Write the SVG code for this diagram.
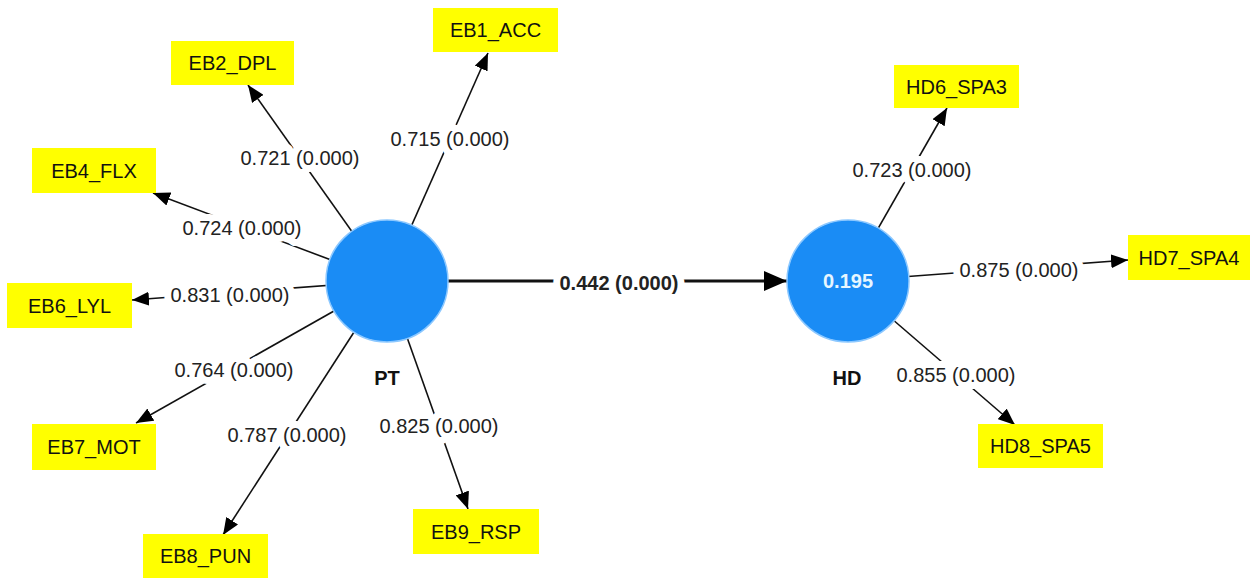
<svg xmlns="http://www.w3.org/2000/svg" width="1250" height="578" viewBox="0 0 1250 578">
<style>
.box{fill:#FFFF00;}
.bt{font-family:"Liberation Sans",Arial,sans-serif;font-size:20px;fill:#111;text-anchor:middle;}
.lv{font-family:"Liberation Sans",Arial,sans-serif;font-size:20px;fill:#222;text-anchor:middle;stroke:#fff;stroke-width:14px;paint-order:stroke;stroke-linejoin:round;}
.ln{stroke:#111;stroke-width:1.6;fill:none;marker-end:url(#ah);}
.lnb{stroke:#111;stroke-width:3.2;fill:none;marker-end:url(#ahb);}
.circ{fill:#1A8CF5;stroke:#8CC8FF;stroke-width:1.5;}
.nl{font-family:"Liberation Sans",Arial,sans-serif;font-size:20px;font-weight:bold;fill:#111;text-anchor:middle;}
</style>
<defs>
<marker id="ah" markerUnits="userSpaceOnUse" markerWidth="18" markerHeight="14" refX="17" refY="7" orient="auto"><path d="M0,0 L17,7 L0,14 z" fill="#000"/></marker>
<marker id="ahb" markerUnits="userSpaceOnUse" markerWidth="24" markerHeight="20" refX="23" refY="10" orient="auto"><path d="M0,0 L23,10 L0,20 z" fill="#000"/></marker>
</defs>
<rect width="1250" height="578" fill="#fff"/>
<g id="connectors">
<line class="ln" x1="387" y1="281" x2="488" y2="53"/>
<line class="ln" x1="387" y1="281" x2="248" y2="85"/>
<line class="ln" x1="387" y1="281" x2="153" y2="193"/>
<line class="ln" x1="387" y1="281" x2="132" y2="300"/>
<line class="ln" x1="387" y1="281" x2="136" y2="423"/>
<line class="ln" x1="387" y1="281" x2="223" y2="535"/>
<line class="ln" x1="387" y1="281" x2="468" y2="509"/>
<line class="lnb" x1="387" y1="281" x2="787" y2="281"/>
<line class="ln" x1="848" y1="281" x2="947" y2="108"/>
<line class="ln" x1="848" y1="281" x2="1128" y2="260"/>
<line class="ln" x1="848" y1="281" x2="1015" y2="425"/>
<text class="lv" x="450" y="146">0.715 (0.000)</text>
<text class="lv" x="300" y="165">0.721 (0.000)</text>
<text class="lv" x="242" y="235">0.724 (0.000)</text>
<text class="lv" x="230" y="302">0.831 (0.000)</text>
<text class="lv" x="234" y="377">0.764 (0.000)</text>
<text class="lv" x="287" y="442">0.787 (0.000)</text>
<text class="lv" x="439" y="433">0.825 (0.000)</text>
<text class="lv" x="619" y="290" font-weight="bold" fill="#111">0.442 (0.000)</text>
<text class="lv" x="912" y="177">0.723 (0.000)</text>
<text class="lv" x="1019" y="277">0.875 (0.000)</text>
<text class="lv" x="956" y="382">0.855 (0.000)</text>
</g>
<g id="PT">
<circle class="circ" cx="387" cy="281" r="61"/>
<text class="nl" x="387" y="385">PT</text>
</g>
<g id="HD">
<circle class="circ" cx="848" cy="281" r="61"/>
<text x="848" y="288" font-family="Liberation Sans, Arial, sans-serif" font-size="20" font-weight="bold" fill="#E6F6FF" text-anchor="middle">0.195</text>
<text class="nl" x="847" y="385">HD</text>
</g>
<g id="EB1_ACC"><rect class="box" x="433" y="8" width="125" height="44"/><text class="bt" x="495.5" y="37">EB1_ACC</text></g>
<g id="EB2_DPL"><rect class="box" x="171" y="41" width="123" height="44"/><text class="bt" x="232.5" y="70">EB2_DPL</text></g>
<g id="EB4_FLX"><rect class="box" x="32" y="148" width="124" height="45"/><text class="bt" x="94" y="178">EB4_FLX</text></g>
<g id="EB6_LYL"><rect class="box" x="7" y="283" width="125" height="45"/><text class="bt" x="69.5" y="313">EB6_LYL</text></g>
<g id="EB7_MOT"><rect class="box" x="32" y="424" width="124" height="46"/><text class="bt" x="94" y="454">EB7_MOT</text></g>
<g id="EB8_PUN"><rect class="box" x="143" y="534" width="125" height="44"/><text class="bt" x="205.5" y="563">EB8_PUN</text></g>
<g id="EB9_RSP"><rect class="box" x="413" y="509" width="126" height="45"/><text class="bt" x="476" y="539">EB9_RSP</text></g>
<g id="HD6_SPA3"><rect class="box" x="894" y="65" width="125" height="43"/><text class="bt" x="956.5" y="94">HD6_SPA3</text></g>
<g id="HD7_SPA4"><rect class="box" x="1128" y="235" width="122" height="45"/><text class="bt" x="1189" y="265">HD7_SPA4</text></g>
<g id="HD8_SPA5"><rect class="box" x="978" y="424" width="125" height="44"/><text class="bt" x="1040.5" y="453">HD8_SPA5</text></g>
</svg>
